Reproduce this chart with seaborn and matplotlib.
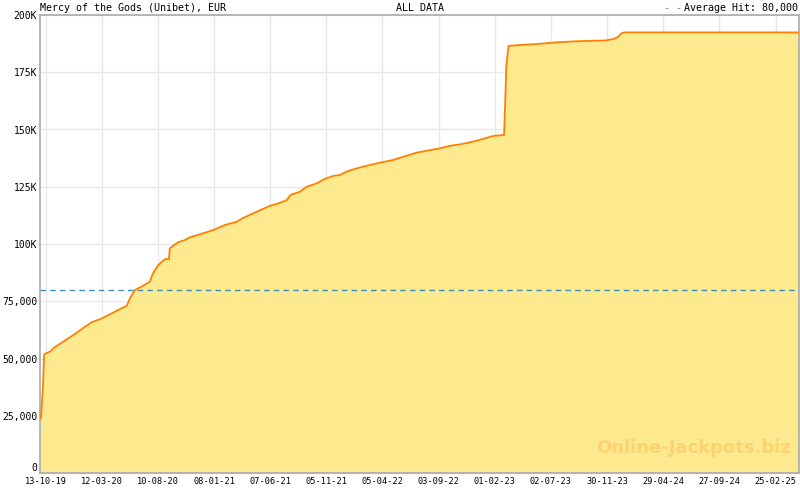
import matplotlib
matplotlib.use("Agg")
import matplotlib.pyplot as plt
import matplotlib.dates as mdates
from matplotlib.ticker import FixedLocator
import pandas as pd
import seaborn as sns

# ---- data ----
dates = [
    "2019-09-27", "2019-09-30", "2019-10-05", "2019-10-08", "2019-10-10",
    "2019-10-24", "2019-11-06", "2019-11-28", "2019-12-12", "2019-12-30",
    "2020-01-26", "2020-02-13", "2020-03-11", "2020-04-02", "2020-05-03",
    "2020-05-17", "2020-05-26", "2020-06-08", "2020-06-26", "2020-07-18",
    "2020-07-27", "2020-08-10", "2020-08-28", "2020-09-08", "2020-09-10",
    "2020-10-02", "2020-10-20", "2020-11-03", "2020-12-09", "2021-01-05",
    "2021-02-05", "2021-03-09", "2021-03-27", "2021-05-02", "2021-06-07",
    "2021-06-25", "2021-07-22", "2021-07-31", "2021-08-26", "2021-09-13",
    "2021-10-10", "2021-11-01", "2021-11-23", "2021-12-11", "2021-12-29",
    "2022-01-25", "2022-03-02", "2022-03-29", "2022-05-04", "2022-05-31",
    "2022-07-06", "2022-08-11", "2022-09-07", "2022-10-04", "2022-10-30",
    "2022-11-26", "2023-01-01", "2023-01-28", "2023-02-26", "2023-03-01",
    "2023-03-04", "2023-03-10", "2023-04-09", "2023-05-23", "2023-06-14",
    "2023-07-20", "2023-09-03", "2023-11-27", "2023-12-17", "2023-12-30",
    "2024-01-08", "2024-01-15", "2025-04-29",
]
values = [
    23500, 24500, 38000, 51500, 52000,
    53000, 55000, 57300, 58800, 60700,
    63900, 65800, 67500, 69300, 71900,
    72900, 76300, 79900, 81400, 83500,
    87200, 90800, 93400, 93400, 98100,
    100700, 101700, 102900, 104700, 106100,
    108300, 109700, 111400, 114100, 116700,
    117500, 119200, 121400, 122800, 125000,
    126500, 128400, 129700, 130100, 131600,
    133000, 134500, 135500, 136700, 138100,
    139900, 141000, 141800, 142900, 143500,
    144400, 145900, 147200, 147600, 162000,
    178000, 186500, 186900, 187300, 187600,
    188100, 188500, 188900, 189500, 190500,
    192000, 192400, 192400,
]
average_hit = 80000
tick_dates = ["2019-10-13", "2020-03-12", "2020-08-10", "2021-01-08", "2021-06-07",
              "2021-11-05", "2022-04-05", "2022-09-03", "2023-02-01", "2023-07-02",
              "2023-11-30", "2024-04-29", "2024-09-27", "2025-02-25"]
tick_labels = ["13-10-19", "12-03-20", "10-08-20", "08-01-21", "07-06-21", "05-11-21",
               "05-04-22", "03-09-22", "01-02-23", "02-07-23", "30-11-23", "29-04-24",
               "27-09-24", "25-02-25"]
y_ticks = [0, 25000, 50000, 75000, 100000, 125000, 150000, 175000, 200000]
y_labels = ["0", "25,000", "50,000", "75,000", "100K", "125K", "150K", "175K", "200K"]
title_left = "Mercy of the Gods (Unibet), EUR"
title_center = "ALL DATA"
legend_text = "Average Hit: 80,000"
watermark = "Online-Jackpots.biz"

df = pd.DataFrame({"date": pd.to_datetime(dates), "value": values})

sns.set_style("white")
plt.rcParams["font.family"] = ["DejaVu Sans Mono", "DejaVu Sans"]
plt.rcParams["text.color"] = "black"
plt.rcParams["xtick.labelcolor"] = "black"
plt.rcParams["ytick.labelcolor"] = "black"

fig = plt.figure(figsize=(8, 4.9), dpi=100)
ax = fig.add_axes([40 / 800, 17 / 490, 759 / 800, 458 / 490])

line_col = "#FF8000"
fill_col = "#FDE98E"
grid_col = "#E8E8E8"
spine_col = "#AAAAAA"

ax.fill_between(df["date"], df["value"], 0, color=fill_col, linewidth=0, zorder=2)
sns.lineplot(data=df, x="date", y="value", ax=ax, color=line_col, linewidth=1.3, zorder=3)
ax.axhline(average_hit, color="#3A8FC0", linestyle=(0, (4, 3)), linewidth=1.0, zorder=4)

ax.set_xlim(pd.Timestamp("2019-09-27"), pd.Timestamp("2025-04-29"))
ax.set_ylim(0, 200000)

major = [mdates.date2num(pd.Timestamp(d)) for d in tick_dates]
step = (major[-1] - major[0]) / (len(major) - 1) / 7
xmin, xmax = ax.get_xlim()
minor = []
v = major[0]
while v <= xmax:
    minor.append(v)
    v += step
ax.xaxis.set_major_locator(FixedLocator(major))
ax.xaxis.set_minor_locator(FixedLocator(minor))
ax.set_xticklabels(tick_labels)
ax.set_yticks(y_ticks)
ax.set_yticklabels(y_labels)
ax.get_yticklabels()[0].set_va("bottom")

ax.grid(True, which="major", color=grid_col, linewidth=1.0, zorder=0)
ax.set_axisbelow(True)
ax.tick_params(axis="x", which="major", direction="in", length=5, color=spine_col,
               labelsize=6.2, pad=3, width=1, labelcolor="black")
ax.tick_params(axis="x", which="minor", direction="in", length=3, color=spine_col, width=1)
ax.tick_params(axis="y", length=0, labelsize=7.0, pad=2, labelcolor="black")
for s in ax.spines.values():
    s.set_color(spine_col)
    s.set_linewidth(1.2)
    s.set_visible(True)
ax.set_xlabel("")
ax.set_ylabel("")

fs = 7.2
fig.text(40 / 800, 1 - 8 / 490, title_left, fontsize=fs, va="center", ha="left", color="black")
fig.text(420 / 800, 1 - 8 / 490, title_center, fontsize=fs, va="center", ha="center", color="black")
fig.text(798 / 800, 1 - 8 / 490, legend_text, fontsize=fs, va="center", ha="right", color="black")
fig.text(682 / 800, 1 - 8 / 490, "- -", fontsize=fs, va="center", ha="right", color="#3A8FC0")

ax.text(0.99, 0.035, watermark, transform=ax.transAxes, ha="right", va="bottom",
        fontsize=13, fontweight="bold", color="#FFB84D", alpha=0.45,
        family=["DejaVu Sans"], zorder=5)

fig.savefig("out.png", dpi=100)
